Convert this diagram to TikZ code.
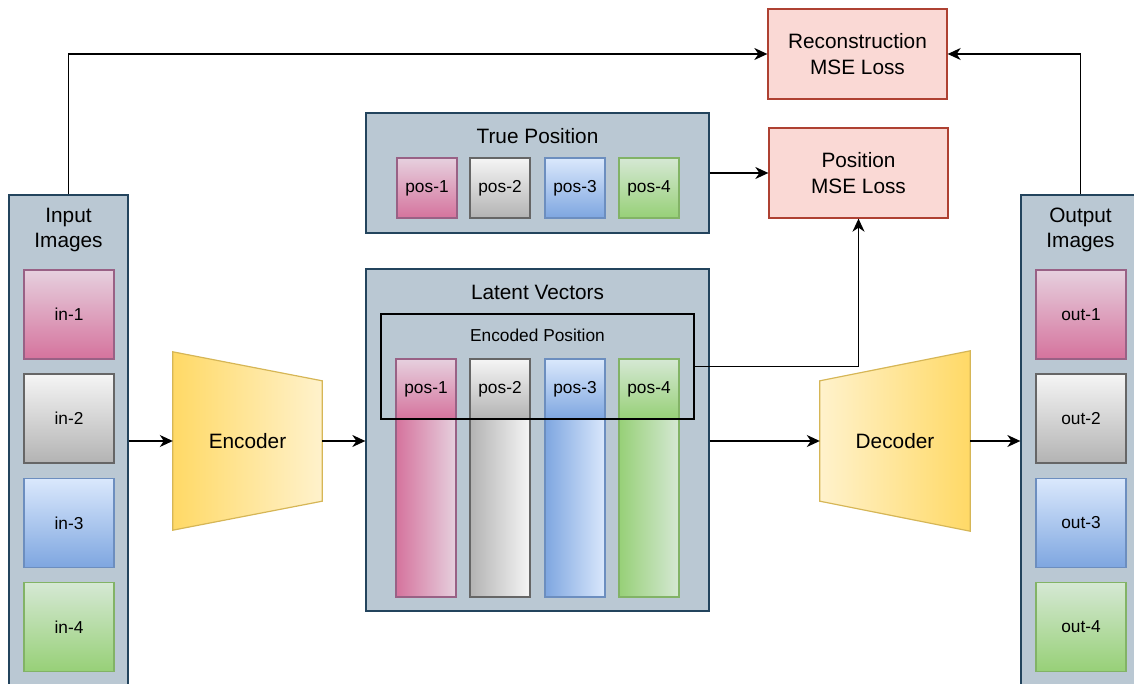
\documentclass[tikz,border=0pt]{standalone}
\usepackage{fontspec}
\setmainfont{Liberation Sans}
\usetikzlibrary{arrows.meta,calc}
\definecolor{panelfill}{HTML}{BAC8D3}
\definecolor{paneldraw}{HTML}{23445D}
\definecolor{pinkL}{HTML}{E6D0DE}\definecolor{pinkD}{HTML}{D5739D}\definecolor{pinkS}{HTML}{996185}
\definecolor{grayL}{HTML}{F5F5F5}\definecolor{grayD}{HTML}{B3B3B3}\definecolor{grayS}{HTML}{666666}
\definecolor{blueL}{HTML}{DAE8FC}\definecolor{blueD}{HTML}{7EA6E0}\definecolor{blueS}{HTML}{6C8EBF}
\definecolor{greenL}{HTML}{D5E8D4}\definecolor{greenD}{HTML}{97D077}\definecolor{greenS}{HTML}{82B366}
\definecolor{yelL}{HTML}{FFF2CC}\definecolor{yelD}{HTML}{FFD966}\definecolor{yelS}{HTML}{D6B656}
\definecolor{redF}{HTML}{FAD9D5}\definecolor{redS}{HTML}{AE4132}
\begin{document}
\begin{tikzpicture}[x=1pt,y=-1pt,
  big/.style={font=\fontsize{20.8}{25.5}\selectfont},
  small/.style={font=\fontsize{17.3}{20}\selectfont},
  panel/.style={draw=paneldraw,fill=panelfill,line width=1.3pt,inner sep=0pt},
  loss/.style={draw=redS,fill=redF,line width=1.3pt,minimum width=179pt,minimum height=90pt,align=center,big},
  sq/.style={line width=1.3pt,inner sep=0pt,small},
  vpink/.style={draw=pinkS,top color=pinkL,bottom color=pinkD},
  vgray/.style={draw=grayS,top color=grayL,bottom color=grayD},
  vblue/.style={draw=blueS,top color=blueL,bottom color=blueD},
  vgreen/.style={draw=greenS,top color=greenL,bottom color=greenD},
  hpink/.style={draw=pinkS,left color=pinkD,right color=pinkL},
  hgray/.style={draw=grayS,left color=grayD,right color=grayL},
  hblue/.style={draw=blueS,left color=blueD,right color=blueL},
  hgreen/.style={draw=greenS,left color=greenD,right color=greenL},
  imgbox/.style={sq,minimum width=90pt,minimum height=89pt},
  posbox/.style={sq,minimum width=60pt,minimum height=60pt},
  barbox/.style={sq,minimum width=60pt,minimum height=238pt},
  arr/.style={-{Stealth[length=13pt,width=12pt,inset=4pt]},line width=1.4pt}]
\useasboundingbox (0,0) rectangle (1134,684);
\clip (0,0) rectangle (1134,684);

% panels
\node[panel,minimum width=119pt,minimum height=510pt] (inp) at (68.5,450) {};
\node[panel,minimum width=119pt,minimum height=510pt] (outp) at (1080.5,450) {};
\node[panel,minimum width=343pt,minimum height=342pt] (lat) at (537.5,440) {};
\node[panel,minimum width=343pt,minimum height=120pt] (true) at (537.5,173) {};

% titles
\node[big,align=center] (inpT) at (68.5,230) {Input\\Images};
\node[big,align=center] (outpT) at (1080.5,230) {Output\\Images};
\node[big] (latT) at (537.5,292) {Latent Vectors};
\node[big] (trueT) at (537.5,136) {True Position};

% input / output images
\node[imgbox,vpink] (in1) at (69,314.5) {in-1};
\node[imgbox,vgray] (in2) at (69,418.5) {in-2};
\node[imgbox,vblue] (in3) at (69,523) {in-3};
\node[imgbox,vgreen] (in4) at (69,627) {in-4};
\node[imgbox,vpink] (out1) at (1081,314.5) {out-1};
\node[imgbox,vgray] (out2) at (1081,418.5) {out-2};
\node[imgbox,vblue] (out3) at (1081,523) {out-3};
\node[imgbox,vgreen] (out4) at (1081,627) {out-4};

% true positions
\node[posbox,vpink] (tp1) at (427,188) {pos-1};
\node[posbox,vgray] (tp2) at (500,188) {pos-2};
\node[posbox,vblue] (tp3) at (575,188) {pos-3};
\node[posbox,vgreen] (tp4) at (649,188) {pos-4};

% latent bars
\node[barbox,hpink] (b1) at (426,478) {};
\node[barbox,hgray] (b2) at (500,478) {};
\node[barbox,hblue] (b3) at (575,478) {};
\node[barbox,hgreen] (b4) at (649,478) {};
\node[posbox,vpink] (ep1) at (426,389) {pos-1};
\node[posbox,vgray] (ep2) at (500,389) {pos-2};
\node[posbox,vblue] (ep3) at (575,389) {pos-3};
\node[posbox,vgreen] (ep4) at (649,389) {pos-4};

% encoded position box
\node[draw=black,line width=1.3pt,minimum width=313pt,minimum height=105pt,inner sep=0pt] (encb) at (537.5,366.5) {};
\node[small] (encbT) at (537.5,335) {Encoded Position};

% encoder / decoder
\node[minimum width=149pt,minimum height=178pt,inner sep=0pt] (enc) at (247.5,441) {};
\path[draw=yelS,line width=1.2pt,left color=yelD,right color=yelL]
  (enc.north west) -- ($(enc.north east)+(0,29)$) -- ($(enc.south east)+(0,-29)$) -- (enc.south west) -- cycle;
\node[big] at (enc) {Encoder};
\node[minimum width=150pt,minimum height=180pt,inner sep=0pt] (dec) at (895,441) {};
\path[draw=yelS,line width=1.2pt,left color=yelL,right color=yelD]
  ($(dec.north west)+(0,30)$) -- (dec.north east) -- (dec.south east) -- ($(dec.south west)+(0,-30)$) -- cycle;
\node[big] at (dec) {Decoder};

% losses
\node[loss] (rec) at (857.5,54) {Reconstruction\\MSE Loss};
\node[loss] (posl) at (858.5,173) {Position\\MSE Loss};

% connectors
\draw[arr] (inp.north) |- (rec.west);
\draw[arr] (outp.north) |- (rec.east);
\draw[arr] (true.east) -- (posl.west);
\draw[arr] (encb.east) -| (posl.south);
\draw[arr] (enc.west -| inp.east) -- (enc.west);
\draw[arr] (enc.east) -- (enc.east -| lat.west);
\draw[arr] (dec.west -| lat.east) -- (dec.west);
\draw[arr] (dec.east) -- (dec.east -| outp.west);
\end{tikzpicture}
\end{document}
